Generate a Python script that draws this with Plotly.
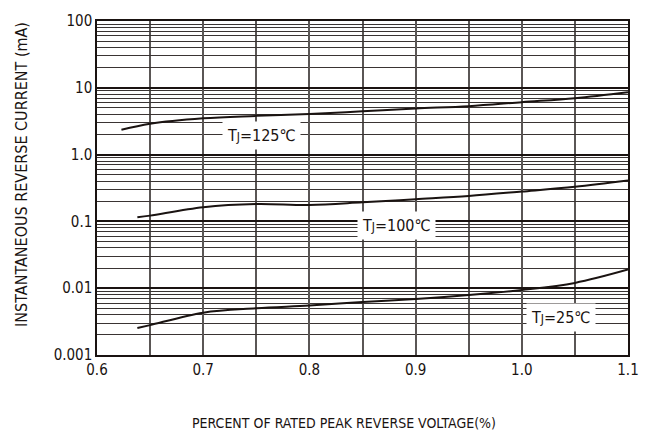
import math
import plotly.graph_objects as go

# ---- data ----
x_125 = [0.623, 0.65, 0.70, 0.75, 0.80, 0.85, 0.90, 0.95, 1.00, 1.05, 1.10]
y_125 = [2.35, 2.9, 3.5, 3.8, 4.05, 4.45, 4.9, 5.3, 6.1, 7.0, 8.6]

x_100 = [0.638, 0.65, 0.70, 0.75, 0.80, 0.85, 0.90, 0.95, 1.00, 1.05, 1.10]
y_100 = [0.115, 0.122, 0.163, 0.182, 0.176, 0.193, 0.215, 0.24, 0.28, 0.33, 0.41]

x_25 = [0.638, 0.65, 0.70, 0.75, 0.80, 0.85, 0.90, 0.95, 1.00, 1.05, 1.10]
y_25 = [0.00253, 0.0028, 0.0043, 0.0050, 0.0055, 0.0062, 0.0069, 0.0079, 0.0094, 0.012, 0.019]

x_tickvals = [0.6, 0.7, 0.8, 0.9, 1.0, 1.1]
x_ticktext = ["0.6", "0.7", "0.8", "0.9", "1.0", "1.1"]
y_tickvals = [0.001, 0.01, 0.1, 1, 10, 100]
y_ticktext = ["0.001", "0.01", "0.1", "1.0", "10", "100"]

labels = ["T<span style='font-size:12px'>J</span>=125℃",
          "T<span style='font-size:12px'>J</span>=100℃",
          "T<span style='font-size:12px'>J</span>=25℃"]
label_x = [0.755, 0.882, 1.037]
label_y = [1.95, 0.0875, 0.00363]

FONT = "DejaVu Sans Condensed"
INK = "#1a1311"

fig = go.Figure()
for xs, ys in [(x_125, y_125), (x_100, y_100), (x_25, y_25)]:
    fig.add_trace(go.Scatter(x=xs, y=ys, mode="lines",
                             line=dict(color=INK, width=2, shape="spline"),
                             showlegend=False, hoverinfo="skip"))

for t, lx, ly in zip(labels, label_x, label_y):
    fig.add_annotation(x=lx, y=math.log10(ly), yref="y", xref="x", text=t,
                       showarrow=False, bgcolor="white", borderpad=4,
                       font=dict(family=FONT, size=16, color=INK))

fig.add_annotation(xref="paper", yref="paper", x=-0.142, y=0.541, xanchor="center",
                   yanchor="middle", textangle=-90, showarrow=False,
                   text="INSTANTANEOUS REVERSE CURRENT (mA)",
                   font=dict(family=FONT, size=16, color=INK))
fig.add_annotation(xref="paper", yref="paper", x=0.4655, y=-0.203, xanchor="center",
                   yanchor="middle", showarrow=False,
                   text="PERCENT OF RATED PEAK REVERSE VOLTAGE(%)",
                   font=dict(family=FONT, size=14, color=INK))

fig.update_xaxes(range=[0.6, 1.1], tickmode="array", tickvals=x_tickvals,
                 ticktext=x_ticktext, ticks="", showgrid=True, gridcolor="#5a5655",
                 gridwidth=1.5,
                 minor=dict(dtick=0.05, tick0=0.6, showgrid=True, gridcolor="#5a5655", gridwidth=1.5),
                 showline=True, linecolor=INK, linewidth=1.5, mirror=True,
                 zeroline=False,
                 tickfont=dict(family=FONT, size=15, color=INK))
fig.update_yaxes(type="log", range=[-3, 2], tickmode="array", tickvals=y_tickvals,
                 ticktext=y_ticktext, ticks="", showgrid=True, gridcolor=INK,
                 gridwidth=1.5,
                 minor=dict(dtick="D1", showgrid=True, gridcolor="#3a3433", gridwidth=1.2),
                 showline=True, linecolor=INK, linewidth=1.5, mirror=True,
                 tickfont=dict(family=FONT, size=15, color=INK))

fig.update_layout(width=653, height=436, margin=dict(l=97, r=25, t=16, b=81),
                  plot_bgcolor="white", paper_bgcolor="white")

fig.write_html("out.html")
